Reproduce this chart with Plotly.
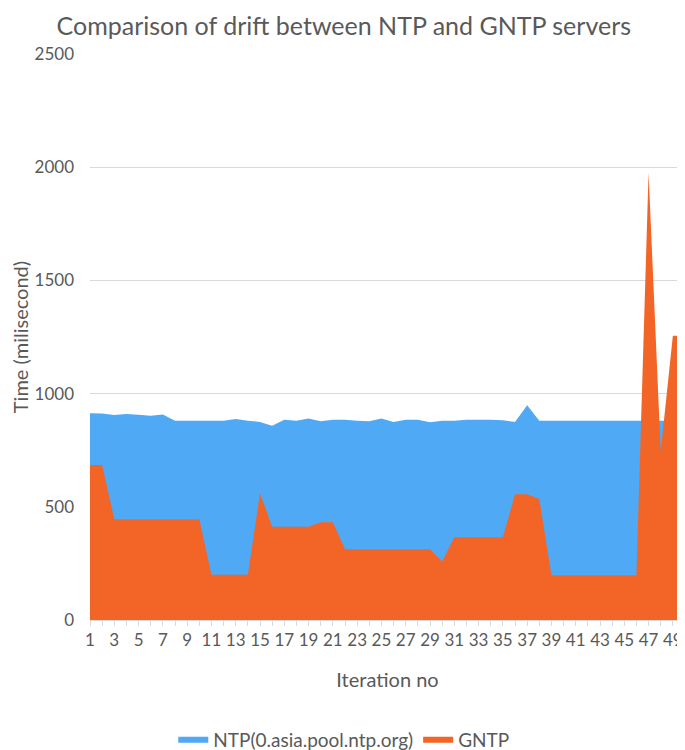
import plotly.graph_objects as go

iterations = list(range(1, 51))

ntp = [913, 912, 905, 910, 907, 902, 908, 880, 880, 880,
       880, 880, 888, 880, 875, 858, 885, 880, 890, 878,
       884, 885, 880, 878, 890, 875, 885, 885, 874, 880,
       880, 885, 885, 885, 882, 875, 948, 880, 880, 880,
       880, 880, 880, 880, 880, 880, 880, 880, 880, 880]

gntp = [685, 685, 445, 445, 445, 445, 445, 445, 445, 445,
        200, 200, 200, 200, 560, 412, 412, 412, 412, 432,
        432, 313, 313, 313, 313, 313, 313, 313, 313, 258,
        365, 365, 365, 365, 365, 555, 555, 535, 198, 198,
        198, 198, 198, 198, 198, 198, 1975, 745, 1255, 1255]

x_ticks = list(range(1, 50, 2))

FONT = "Lato, 'Open Sans', sans-serif"
GREY = "#595959"

fig = go.Figure()
fig.add_trace(go.Scatter(x=iterations, y=ntp, mode="none", fill="tozeroy",
                         fillcolor="#4fa9f5", name="NTP(0.asia.pool.ntp.org)"))
fig.add_trace(go.Scatter(x=iterations, y=gntp, mode="none", fill="tozeroy",
                         fillcolor="#f26527", name="GNTP"))

# page body has an 8px margin, so the figure is sized to fit the window
fig.update_layout(
    width=677,
    height=742,
    template="plotly_white",
    plot_bgcolor="white",
    paper_bgcolor="white",
    font=dict(family=FONT, color=GREY, size=17),
    title=dict(text="Comparison of drift between NTP and GNTP servers",
               x=0.496, xref="container", xanchor="center",
               y=0.976, yref="container", yanchor="middle",
               font=dict(size=25, color=GREY)),
    margin=dict(l=82, r=0, t=46, b=130),
    showlegend=True,
    legend=dict(orientation="h", xref="container", x=0.496, xanchor="center",
                yref="container", y=0.0135, yanchor="middle",
                font=dict(size=19, color=GREY)),
    xaxis=dict(
        range=[1, 50],
        automargin=False,
        tickmode="array",
        tickvals=x_ticks,
        ticktext=[str(v) for v in x_ticks],
        showgrid=False,
        zeroline=False,
        showline=True,
        linecolor="#d9d9d9",
        ticks="outside",
        ticklen=5,
        tickcolor="#d9d9d9",
        minor=dict(dtick=1, tick0=1, ticks="outside", ticklen=5, tickcolor="#d9d9d9", showgrid=False),
        tickfont=dict(size=17, color=GREY),
        title=dict(text="Iteration no", font=dict(size=20, color=GREY), standoff=23),
    ),
    yaxis=dict(
        range=[0, 2500],
        automargin=False,
        tickvals=[0, 500, 1000, 1500, 2000, 2500],
        showgrid=True,
        gridcolor="#d9d9d9",
        zeroline=False,
        ticks="",
        ticklabelstandoff=15,
        tickfont=dict(size=17, color=GREY),
        title=dict(text="Time (milisecond)", font=dict(size=20, color=GREY), standoff=10),
    ),
)

fig.write_html("out.html")
